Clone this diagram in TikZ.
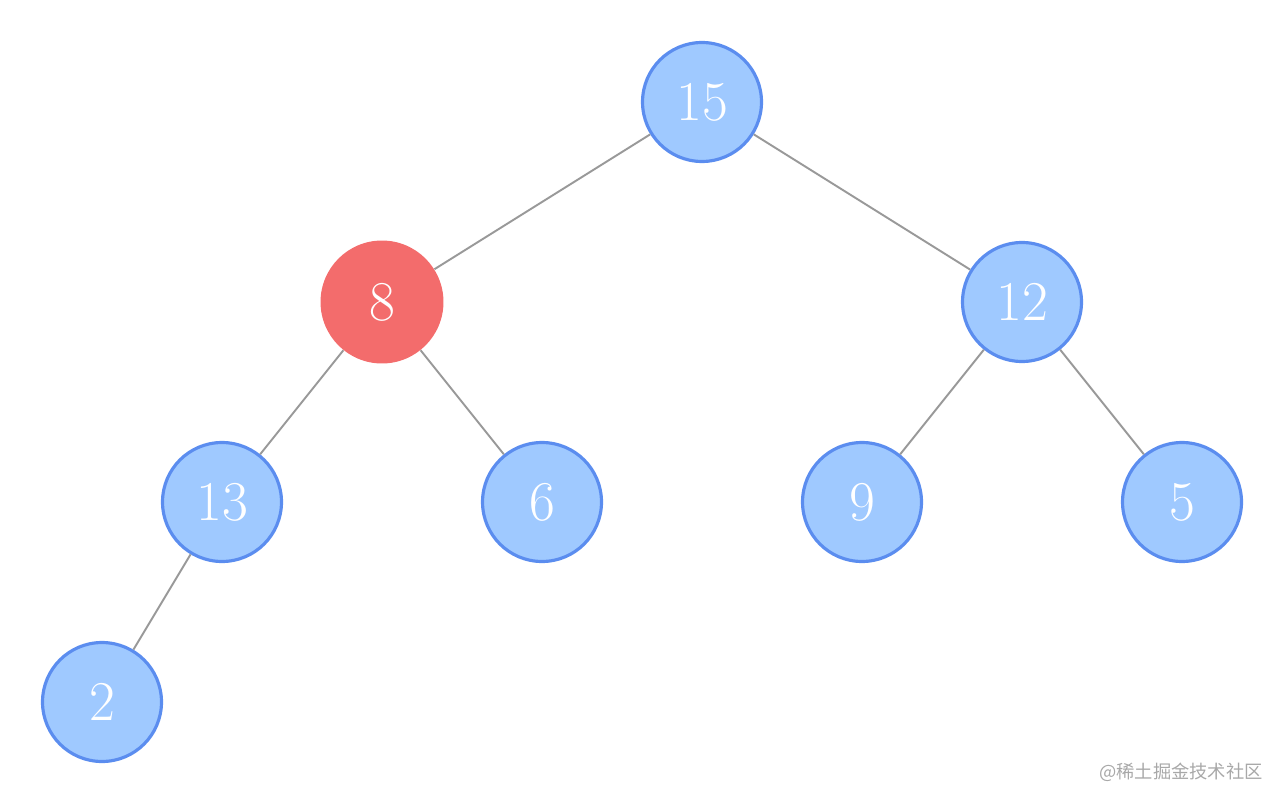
\documentclass[tikz,border=0pt]{standalone}
\usepackage{fontspec}
\newfontfamily\cjk{Noto Sans CJK SC}
\usepackage{tikz}
\usetikzlibrary{positioning}
\definecolor{nodeblue}{HTML}{9FC9FF}
\definecolor{edgeblue}{HTML}{5B8DEF}
\definecolor{nodered}{HTML}{F36C6C}
\definecolor{linegray}{HTML}{999999}
\definecolor{markgray}{HTML}{A8A8A8}

\begin{document}
\begin{tikzpicture}
  [
    x=0.02cm, y=-0.02cm,
    Blue/.style={circle, draw=edgeblue, fill=nodeblue, line width=1.8pt, minimum size=2.38cm, inner sep=0pt, text=white, font=\fontsize{32}{36}\selectfont},
    Red/.style={circle, draw=none, fill=nodered, minimum size=2.46cm, inner sep=0pt, text=white, font=\fontsize{32}{36}\selectfont},
    Link/.style={draw=linegray, line width=1.1pt}
  ]
  \useasboundingbox (0,0) rectangle (1284,804);
  % Nodes
  \node[Blue] (n15) at (702, 102) {15};
  \node[Red]  (n8)  at (382, 302) {8};
  \node[Blue] (n12) at (1022, 302) {12};
  \node[Blue] (n13) at (222, 502) {13};
  \node[Blue] (n6)  at (542, 502) {6};
  \node[Blue] (n9)  at (862, 502) {9};
  \node[Blue] (n5)  at (1182, 502) {5};
  \node[Blue] (n2)  at (102, 702) {2};
  % Lines
  \path [Link] (n15) -- (n8);
  \path [Link] (n15) -- (n12);
  \path [Link] (n8) -- (n13);
  \path [Link] (n8) -- (n6);
  \path [Link] (n12) -- (n9);
  \path [Link] (n12) -- (n5);
  \path [Link] (n13) -- (n2);
  % Watermark
  \node[text=markgray, font=\cjk\fontsize{10.4}{12}\selectfont, inner sep=0pt] (mark) at (1181, 772) {@稀土掘金技术社区};
\end{tikzpicture}
\end{document}
